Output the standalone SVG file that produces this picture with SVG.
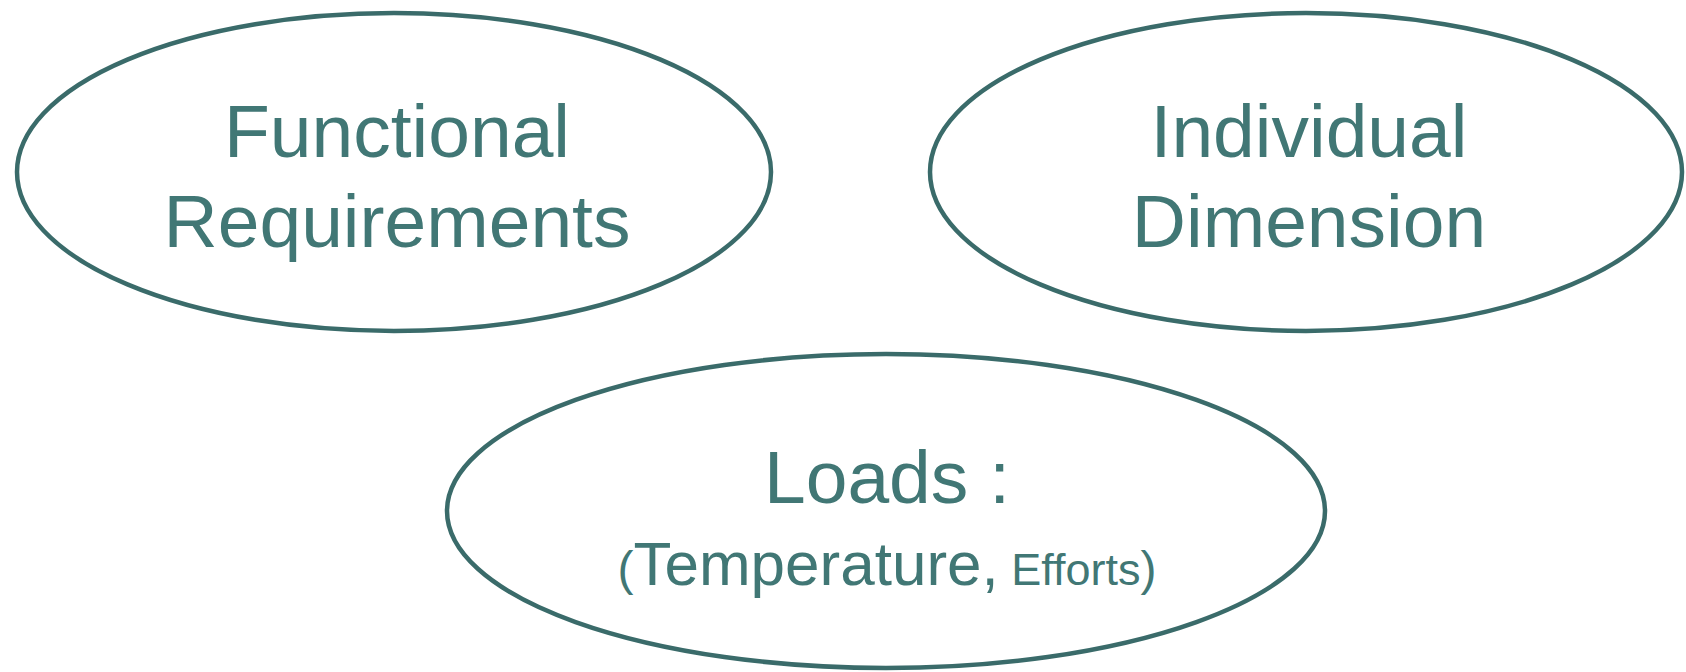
<svg xmlns="http://www.w3.org/2000/svg" width="1686" height="672" viewBox="0 0 1686 672">
<style>
.node{fill:#ffffff;stroke:#3a6b6a;stroke-width:4.5}
.lbl{font-family:"Liberation Sans",Arial,sans-serif;fill:#417775;text-anchor:middle}
.big{font-size:75px}
</style>
<rect width="1686" height="672" fill="#ffffff"/>
<g id="connectors"></g>
<g id="functional-requirements">
<ellipse class="node" cx="394" cy="172" rx="377" ry="159"/>
<text class="lbl big" x="397" y="157">Functional</text>
<text class="lbl big" x="397" y="247">Requirements</text>
</g>
<g id="individual-dimension">
<ellipse class="node" cx="1306" cy="172" rx="376" ry="159"/>
<text class="lbl big" x="1309" y="157">Individual</text>
<text class="lbl big" x="1309" y="247">Dimension</text>
</g>
<g id="loads">
<ellipse class="node" cx="886" cy="511" rx="439" ry="157"/>
<text class="lbl big" x="887" y="503">Loads :</text>
<text class="lbl" x="887" y="585"><tspan font-size="48">(</tspan><tspan font-size="62">Temperature,</tspan><tspan font-size="45"> Efforts</tspan><tspan font-size="48">)</tspan></text>
</g>
</svg>
